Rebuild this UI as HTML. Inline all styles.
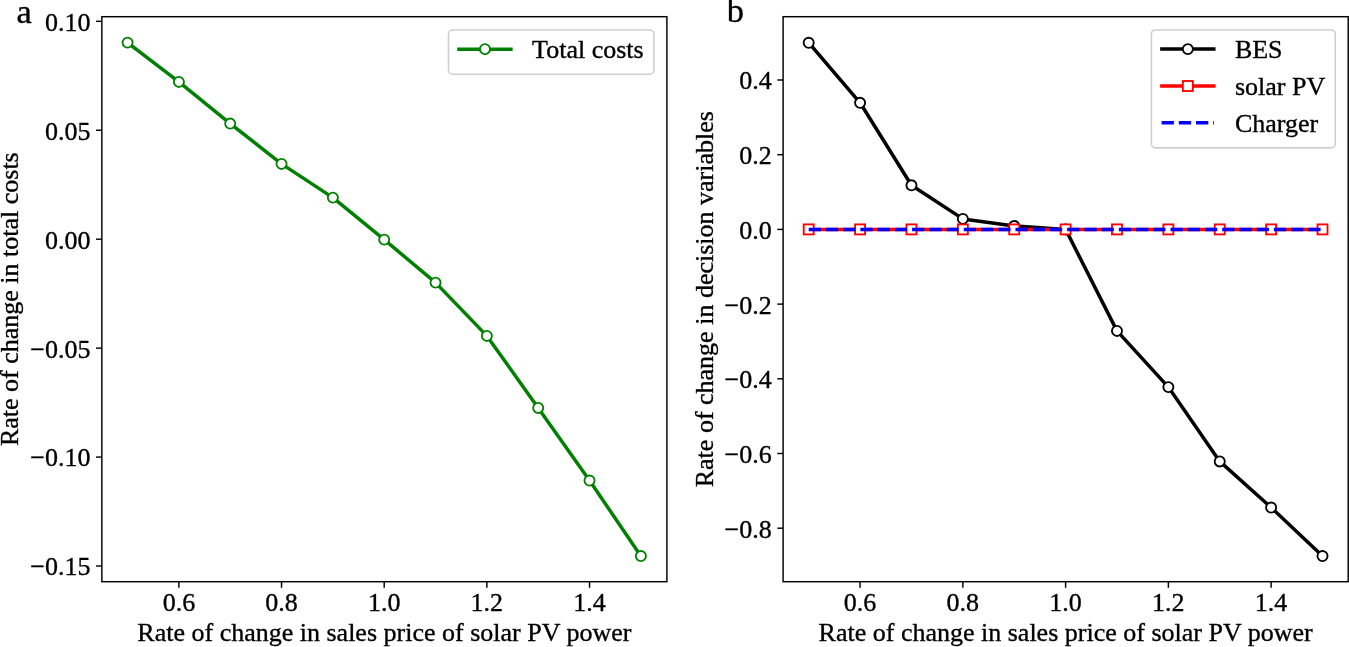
<!DOCTYPE html>
<html><head><meta charset="utf-8"><title>Sensitivity analysis</title>
<style>html,body{margin:0;padding:0;background:#fff;overflow:hidden}svg{display:block;will-change:transform}text{font-family:"Liberation Serif",serif;fill:#000;stroke:#000;stroke-width:0.35px;stroke-linejoin:round}</style></head><body>
<svg width="1349" height="647" viewBox="0 0 1349 647">
<rect x="0" y="0" width="1349" height="647" fill="#ffffff"/>
<g id="panel-a">
<line x1="178.88" y1="581.7" x2="178.88" y2="587.8" stroke="#000" stroke-width="1.45"/>
<text x="178.88" y="611.2" font-size="26.0" text-anchor="middle">0.6</text>
<line x1="281.54" y1="581.7" x2="281.54" y2="587.8" stroke="#000" stroke-width="1.45"/>
<text x="281.54" y="611.2" font-size="26.0" text-anchor="middle">0.8</text>
<line x1="384.2" y1="581.7" x2="384.2" y2="587.8" stroke="#000" stroke-width="1.45"/>
<text x="384.2" y="611.2" font-size="26.0" text-anchor="middle">1.0</text>
<line x1="486.86" y1="581.7" x2="486.86" y2="587.8" stroke="#000" stroke-width="1.45"/>
<text x="486.86" y="611.2" font-size="26.0" text-anchor="middle">1.2</text>
<line x1="589.52" y1="581.7" x2="589.52" y2="587.8" stroke="#000" stroke-width="1.45"/>
<text x="589.52" y="611.2" font-size="26.0" text-anchor="middle">1.4</text>
<line x1="96.05" y1="21.32" x2="101.85" y2="21.32" stroke="#000" stroke-width="1.45"/>
<text x="90.45" y="30.72" font-size="26.0" text-anchor="end">0.10</text>
<line x1="96.05" y1="130.26" x2="101.85" y2="130.26" stroke="#000" stroke-width="1.45"/>
<text x="90.45" y="139.66" font-size="26.0" text-anchor="end">0.05</text>
<line x1="96.05" y1="239.2" x2="101.85" y2="239.2" stroke="#000" stroke-width="1.45"/>
<text x="90.45" y="248.6" font-size="26.0" text-anchor="end">0.00</text>
<line x1="96.05" y1="348.14" x2="101.85" y2="348.14" stroke="#000" stroke-width="1.45"/>
<text x="90.45" y="357.54" font-size="26.0" text-anchor="end">−0.05</text>
<line x1="96.05" y1="457.08" x2="101.85" y2="457.08" stroke="#000" stroke-width="1.45"/>
<text x="90.45" y="466.48" font-size="26.0" text-anchor="end">−0.10</text>
<line x1="96.05" y1="566.02" x2="101.85" y2="566.02" stroke="#000" stroke-width="1.45"/>
<text x="90.45" y="575.42" font-size="26.0" text-anchor="end">−0.15</text>
<text x="384.38" y="641.3" font-size="26.0" text-anchor="middle">Rate of change in sales price of solar PV power</text>
<text transform="translate(17.9,299.2) rotate(-90)" font-size="26.0" text-anchor="middle">Rate of change in total costs</text>
<text x="16.5" y="22.7" font-size="34.4">a</text>
<polyline fill="none" stroke="#008000" stroke-width="3.5" stroke-linejoin="round" stroke-linecap="square" points="127.55,42.6 178.88,81.9 230.21,123.6 281.54,163.9 332.87,197.6 384.2,239.6 435.53,282.6 486.86,335.9 538.19,407.9 589.52,480.5 640.85,556"/>
<circle cx="127.55" cy="42.6" r="5.05" fill="#fff" stroke="#008000" stroke-width="1.85"/>
<circle cx="178.88" cy="81.9" r="5.05" fill="#fff" stroke="#008000" stroke-width="1.85"/>
<circle cx="230.21" cy="123.6" r="5.05" fill="#fff" stroke="#008000" stroke-width="1.85"/>
<circle cx="281.54" cy="163.9" r="5.05" fill="#fff" stroke="#008000" stroke-width="1.85"/>
<circle cx="332.87" cy="197.6" r="5.05" fill="#fff" stroke="#008000" stroke-width="1.85"/>
<circle cx="384.2" cy="239.6" r="5.05" fill="#fff" stroke="#008000" stroke-width="1.85"/>
<circle cx="435.53" cy="282.6" r="5.05" fill="#fff" stroke="#008000" stroke-width="1.85"/>
<circle cx="486.86" cy="335.9" r="5.05" fill="#fff" stroke="#008000" stroke-width="1.85"/>
<circle cx="538.19" cy="407.9" r="5.05" fill="#fff" stroke="#008000" stroke-width="1.85"/>
<circle cx="589.52" cy="480.5" r="5.05" fill="#fff" stroke="#008000" stroke-width="1.85"/>
<circle cx="640.85" cy="556" r="5.05" fill="#fff" stroke="#008000" stroke-width="1.85"/>
<rect x="101.85" y="16.7" width="565.05" height="565" fill="none" stroke="#000" stroke-width="1.45"/>
<rect x="448.5" y="29.95" width="205.4" height="44.3" rx="4.2" ry="4.2" fill="#fff" fill-opacity="0.8" stroke="#cfcfcf" stroke-width="1.6"/>
<line x1="459.0" y1="49.15" x2="510.9" y2="49.15" stroke="#008000" stroke-width="3.5" stroke-linecap="square"/>
<circle cx="484.95" cy="49.15" r="5.05" fill="#fff" stroke="#008000" stroke-width="1.85"/>
<text x="532.1" y="58.4" font-size="26.0">Total costs</text>
</g>
<g id="panel-b">
<line x1="860.08" y1="581.7" x2="860.08" y2="587.8" stroke="#000" stroke-width="1.45"/>
<text x="860.08" y="611.2" font-size="26.0" text-anchor="middle">0.6</text>
<line x1="962.84" y1="581.7" x2="962.84" y2="587.8" stroke="#000" stroke-width="1.45"/>
<text x="962.84" y="611.2" font-size="26.0" text-anchor="middle">0.8</text>
<line x1="1065.6" y1="581.7" x2="1065.6" y2="587.8" stroke="#000" stroke-width="1.45"/>
<text x="1065.6" y="611.2" font-size="26.0" text-anchor="middle">1.0</text>
<line x1="1168.36" y1="581.7" x2="1168.36" y2="587.8" stroke="#000" stroke-width="1.45"/>
<text x="1168.36" y="611.2" font-size="26.0" text-anchor="middle">1.2</text>
<line x1="1271.12" y1="581.7" x2="1271.12" y2="587.8" stroke="#000" stroke-width="1.45"/>
<text x="1271.12" y="611.2" font-size="26.0" text-anchor="middle">1.4</text>
<line x1="777.3" y1="80" x2="783.1" y2="80" stroke="#000" stroke-width="1.45"/>
<text x="771.7" y="89.4" font-size="26.0" text-anchor="end">0.4</text>
<line x1="777.3" y1="154.7" x2="783.1" y2="154.7" stroke="#000" stroke-width="1.45"/>
<text x="771.7" y="164.1" font-size="26.0" text-anchor="end">0.2</text>
<line x1="777.3" y1="229.4" x2="783.1" y2="229.4" stroke="#000" stroke-width="1.45"/>
<text x="771.7" y="238.8" font-size="26.0" text-anchor="end">0.0</text>
<line x1="777.3" y1="304.1" x2="783.1" y2="304.1" stroke="#000" stroke-width="1.45"/>
<text x="771.7" y="313.5" font-size="26.0" text-anchor="end">−0.2</text>
<line x1="777.3" y1="378.8" x2="783.1" y2="378.8" stroke="#000" stroke-width="1.45"/>
<text x="771.7" y="388.2" font-size="26.0" text-anchor="end">−0.4</text>
<line x1="777.3" y1="453.5" x2="783.1" y2="453.5" stroke="#000" stroke-width="1.45"/>
<text x="771.7" y="462.9" font-size="26.0" text-anchor="end">−0.6</text>
<line x1="777.3" y1="528.2" x2="783.1" y2="528.2" stroke="#000" stroke-width="1.45"/>
<text x="771.7" y="537.6" font-size="26.0" text-anchor="end">−0.8</text>
<text x="1065.65" y="641.3" font-size="26.0" text-anchor="middle">Rate of change in sales price of solar PV power</text>
<text transform="translate(712.7,299.2) rotate(-90)" font-size="26.0" text-anchor="middle">Rate of change in decision variables</text>
<text x="726.8" y="22.3" font-size="34.4">b</text>
<polyline fill="none" stroke="#000" stroke-width="3.5" stroke-linejoin="round" stroke-linecap="square" points="808.7,42.75 860.08,102.8 911.46,185.3 962.84,218.9 1014.22,226 1065.6,229.4 1116.98,330.9 1168.36,387.1 1219.74,461.4 1271.12,507.5 1322.5,556"/>
<circle cx="808.7" cy="42.75" r="5.05" fill="#fff" stroke="#000" stroke-width="1.85"/>
<circle cx="860.08" cy="102.8" r="5.05" fill="#fff" stroke="#000" stroke-width="1.85"/>
<circle cx="911.46" cy="185.3" r="5.05" fill="#fff" stroke="#000" stroke-width="1.85"/>
<circle cx="962.84" cy="218.9" r="5.05" fill="#fff" stroke="#000" stroke-width="1.85"/>
<circle cx="1014.22" cy="226" r="5.05" fill="#fff" stroke="#000" stroke-width="1.85"/>
<circle cx="1065.6" cy="229.4" r="5.05" fill="#fff" stroke="#000" stroke-width="1.85"/>
<circle cx="1116.98" cy="330.9" r="5.05" fill="#fff" stroke="#000" stroke-width="1.85"/>
<circle cx="1168.36" cy="387.1" r="5.05" fill="#fff" stroke="#000" stroke-width="1.85"/>
<circle cx="1219.74" cy="461.4" r="5.05" fill="#fff" stroke="#000" stroke-width="1.85"/>
<circle cx="1271.12" cy="507.5" r="5.05" fill="#fff" stroke="#000" stroke-width="1.85"/>
<circle cx="1322.5" cy="556" r="5.05" fill="#fff" stroke="#000" stroke-width="1.85"/>
<line x1="808.7" y1="229.4" x2="1322.5" y2="229.4" stroke="#ff0000" stroke-width="3.5" stroke-linecap="square"/>
<rect x="803.7" y="224.4" width="10" height="10" fill="#fff" stroke="#ff0000" stroke-width="1.85"/>
<rect x="855.08" y="224.4" width="10" height="10" fill="#fff" stroke="#ff0000" stroke-width="1.85"/>
<rect x="906.46" y="224.4" width="10" height="10" fill="#fff" stroke="#ff0000" stroke-width="1.85"/>
<rect x="957.84" y="224.4" width="10" height="10" fill="#fff" stroke="#ff0000" stroke-width="1.85"/>
<rect x="1009.22" y="224.4" width="10" height="10" fill="#fff" stroke="#ff0000" stroke-width="1.85"/>
<rect x="1060.6" y="224.4" width="10" height="10" fill="#fff" stroke="#ff0000" stroke-width="1.85"/>
<rect x="1111.98" y="224.4" width="10" height="10" fill="#fff" stroke="#ff0000" stroke-width="1.85"/>
<rect x="1163.36" y="224.4" width="10" height="10" fill="#fff" stroke="#ff0000" stroke-width="1.85"/>
<rect x="1214.74" y="224.4" width="10" height="10" fill="#fff" stroke="#ff0000" stroke-width="1.85"/>
<rect x="1266.12" y="224.4" width="10" height="10" fill="#fff" stroke="#ff0000" stroke-width="1.85"/>
<rect x="1317.5" y="224.4" width="10" height="10" fill="#fff" stroke="#ff0000" stroke-width="1.85"/>
<line x1="808.7" y1="229.4" x2="1322.5" y2="229.4" stroke="#0000ff" stroke-width="3.5" stroke-dasharray="12.24 4.99"/>
<rect x="783.1" y="16.7" width="565.1" height="565" fill="none" stroke="#000" stroke-width="1.45"/>
<rect x="1151.4" y="29.95" width="183.9" height="117.9" rx="4.2" ry="4.2" fill="#fff" fill-opacity="0.8" stroke="#cfcfcf" stroke-width="1.6"/>
<line x1="1161.9" y1="49.1" x2="1213.8" y2="49.1" stroke="#000" stroke-width="3.5" stroke-linecap="square"/>
<circle cx="1187.85" cy="49.1" r="5.05" fill="#fff" stroke="#000" stroke-width="1.85"/>
<text x="1234.9" y="58.2" font-size="26.0">BES</text>
<line x1="1161.9" y1="86.0" x2="1213.8" y2="86.0" stroke="#ff0000" stroke-width="3.5" stroke-linecap="square"/>
<rect x="1182.85" y="81" width="10" height="10" fill="#fff" stroke="#ff0000" stroke-width="1.85"/>
<text x="1234.9" y="95.0" font-size="26.0">solar PV</text>
<line x1="1161.6" y1="122.8" x2="1214.0" y2="122.8" stroke="#0000ff" stroke-width="3.5" stroke-dasharray="12.3 4.9"/>
<text x="1234.9" y="131.8" font-size="26.0">Charger</text>
</g>
</svg></body></html>
